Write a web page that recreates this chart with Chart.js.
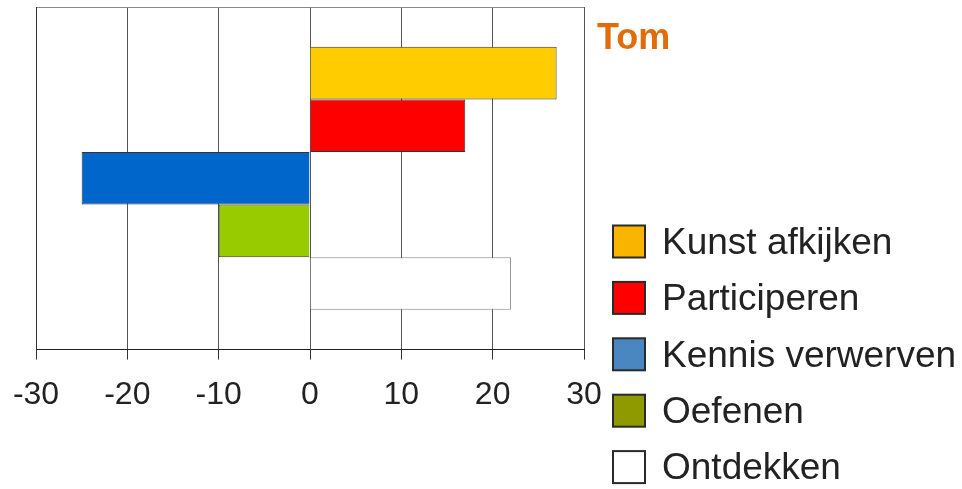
<!DOCTYPE html>
<html>
<head>
<meta charset="utf-8">
<script src="https://cdn.jsdelivr.net/npm/chart.js@4/dist/chart.umd.min.js"></script>
<style>
  html, body { margin: 0; padding: 0; background: #fff; }
  #wrap { width: 962px; height: 489px; }
</style>
</head>
<body>
<div id="wrap"><canvas id="tomChart" width="962" height="489"></canvas></div>
<script>
// data
var categories = ["Kunst afkijken", "Participeren", "Kennis verwerven", "Oefenen", "Ontdekken"];
var values = [27, 17, -25, -10, 22];
var xTicks = [-30, -20, -10, 0, 10, 20, 30];
var chartTitle = "Tom";

// styles
var barColors = ["#FFCC00", "#FF0000", "#0066CC", "#99CC00", "#FFFFFF"];
var barBorders = ["#333333", "#333333", "#333333", "#333333", "#888888"];
var legendColors = ["#F9B400", "#FF0000", "#4A86C0", "#8E9A00", "#FFFFFF"];
var FONT = "'Liberation Sans', Arial, sans-serif";

var datasets = [];
for (let i = 0; i < categories.length; i++) {
  datasets.push({
    label: categories[i],
    data: [values[i]],
    backgroundColor: barColors[i],
    borderColor: barBorders[i],
    borderWidth: 1,
    categoryPercentage: 0.7675,
    barPercentage: 1
  });
}

// legend + title drawn at fixed spots to the right of the plot
var sideLegend = {
  id: "sideLegend",
  afterDraw(chart) {
    var ctx = chart.ctx;
    ctx.save();
    ctx.fillStyle = "#E36C0A";
    ctx.font = "bold 36px " + FONT;
    ctx.textBaseline = "alphabetic";
    ctx.textAlign = "left";
    ctx.fillText(chartTitle, 597, 49);

    ctx.font = "37px " + FONT;
    ctx.textBaseline = "middle";
    chart.data.datasets.forEach(function (ds, i) {
      var cy = 241.5 + i * 56.4;
      ctx.fillStyle = legendColors[i];
      ctx.fillRect(613, cy - 16, 32, 32);
      ctx.lineWidth = 2;
      ctx.strokeStyle = "#2a2a2a";
      ctx.strokeRect(613, cy - 16, 32, 32);
      ctx.fillStyle = "#222";
      ctx.fillText(ds.label, 662, cy + 2);
    });
    ctx.restore();
  }
};

new Chart("tomChart", {
  type: "bar",
  data: {
    labels: [""],
    datasets: datasets
  },
  options: {
    indexAxis: "y",
    responsive: false,
    animation: false,
    layout: { padding: { left: 36, right: 378, top: 7, bottom: 59 } },
    plugins: {
      legend: { display: false },
      tooltip: { enabled: false }
    },
    scales: {
      x: {
        min: -30,
        max: 30,
        afterBuildTicks: function (axis) {
          axis.ticks = xTicks.map(function (v) { return { value: v }; });
        },
        afterFit: function (axis) {
          axis.paddingLeft = 0;
          axis.paddingRight = 0;
        },
        grid: { color: "#555", lineWidth: 1, tickLength: 10, tickColor: "#333" },
        border: { display: true, color: "#222", width: 1 },
        ticks: {
          color: "#222",
          padding: 16,
          maxRotation: 0,
          font: { family: FONT, size: 32 }
        }
      },
      y: {
        display: true,
        afterFit: function (axis) {
          axis.width = 0;
        },
        grid: { color: "#888", drawTicks: false },
        border: { display: true, color: "#333", width: 1 },
        ticks: { display: false }
      }
    }
  },
  plugins: [sideLegend]
});
</script>
</body>
</html>
